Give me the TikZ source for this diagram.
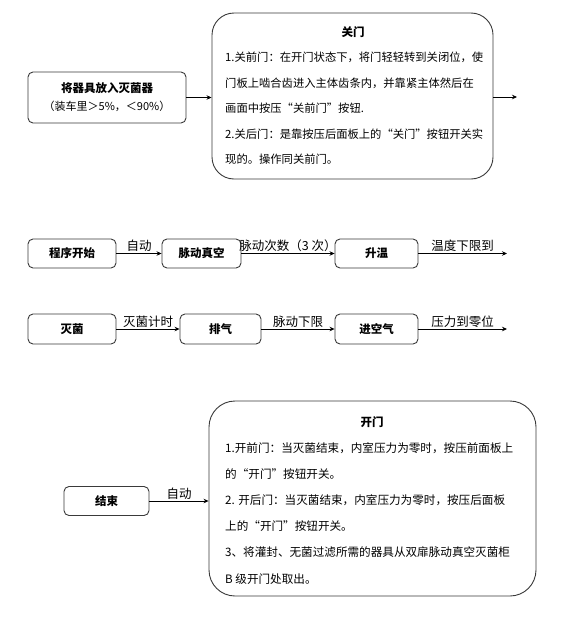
\documentclass[tikz,border=0pt]{standalone}
\usepackage{fontspec}
\setmainfont{Noto Sans CJK SC}
\usetikzlibrary{arrows.meta, positioning}
\definecolor{boxline}{HTML}{3A3A3A}
\tikzset{
  stepbox/.style={draw=boxline, line width=0.9pt, rounded corners=5pt, fill=white,
    font=\fontsize{11.5}{14}\selectfont\bfseries, inner sep=0pt},
  bigbox/.style={draw=boxline, line width=0.9pt, rounded corners=22pt, fill=white, inner sep=0pt},
  bodytext/.style={font=\fontsize{11.3}{25.5}\selectfont, align=left, anchor=north west, inner sep=0pt},
  lbl/.style={font=\fontsize{12.5}{14}\selectfont, above, inner sep=1.5pt},
  flow/.style={->, line width=0.7pt}
}
\begin{document}
\begin{tikzpicture}[>={Stealth[length=5pt,width=4.5pt]}, x=1pt, y=-1pt]
  \useasboundingbox (0,0) rectangle (579,624);

  % Oben: einlegen, Tuer schliessen
  \node[stepbox, minimum width=158pt, minimum height=51pt, align=center] (load) at (107,97.5)
    {将器具放入灭菌器\\[4pt]{\mdseries\fontsize{11}{13}\selectfont（装车里＞5\%，＜90\%）}};
  \node[bigbox, minimum width=281pt, minimum height=166pt] (close) at (352.5,96) {};
  \node[font=\fontsize{11.5}{14}\selectfont\bfseries] (closetitle) at (353,32) {关门};
  \node[bodytext] (closebody) at (225,52)
    {1.关前门：在开门状态下，将门轻轻转到关闭位，使\\
     门板上啮合齿进入主体齿条内，并靠紧主体然后在\\
     画面中按压“关前门”按钮.\\
     2.关后门：是靠按压后面板上的“关门”按钮开关实\\
     现的。操作同关前门。};
  \coordinate (closeout) at (517,97);

  \draw[flow] (load.east) -- (load.east -| close.west);
  \draw[flow] (closeout -| close.east) -- (closeout);

  % Programmablauf
  \node[stepbox, minimum width=88pt, minimum height=29pt] (start) at (72,253.5) {程序开始};
  \node[stepbox, minimum width=79pt, minimum height=29pt] (vac) at (201.5,253.5) {脉动真空};
  \node[stepbox, minimum width=83pt, minimum height=29pt] (heat) at (376.5,253.5) {升温};
  \coordinate (heatout) at (507,253.5);

  \draw[flow] (start) -- (vac) node[lbl, midway] {自动};
  \draw[flow] (vac) -- (heat) node[lbl, midway] {脉动次数（3 次）};
  \draw[flow] (heat) -- (heatout) node[lbl, midway] {温度下限到};

  \node[stepbox, minimum width=88pt, minimum height=30pt] (steril) at (72,329) {灭菌};
  \node[stepbox, minimum width=81pt, minimum height=30pt] (exhaust) at (220.5,329) {排气};
  \node[stepbox, minimum width=83pt, minimum height=30pt] (air) at (376.5,329) {进空气};
  \coordinate (airout) at (507,329);

  \draw[flow] (steril) -- (exhaust) node[lbl, midway] {灭菌计时};
  \draw[flow] (exhaust) -- (air) node[lbl, midway] {脉动下限};
  \draw[flow] (air) -- (airout) node[lbl, midway] {压力到零位};

  % Ende, Tuer oeffnen
  \node[stepbox, minimum width=85pt, minimum height=29pt] (finish) at (106.5,501) {结束};
  \node[bigbox, minimum width=327pt, minimum height=195pt, rounded corners=26pt] (open) at (372.5,498.5) {};
  \node[font=\fontsize{11.5}{14}\selectfont\bfseries] (opentitle) at (372,422) {开门};
  \node[bodytext, font=\fontsize{11.6}{26.2}\selectfont] (openbody) at (225,442)
    {1.开前门：当灭菌结束，内室压力为零时，按压前面板上\\
     的“开门”按钮开关。\\
     2. 开后门：当灭菌结束，内室压力为零时，按压后面板\\
     上的“开门”按钮开关。\\
     3、将灌封、无菌过滤所需的器具从双扉脉动真空灭菌柜\\
     B 级开门处取出。};

  \draw[flow] (finish.east) -- (finish.east -| open.west) node[lbl, midway] {自动};
\end{tikzpicture}
\end{document}
